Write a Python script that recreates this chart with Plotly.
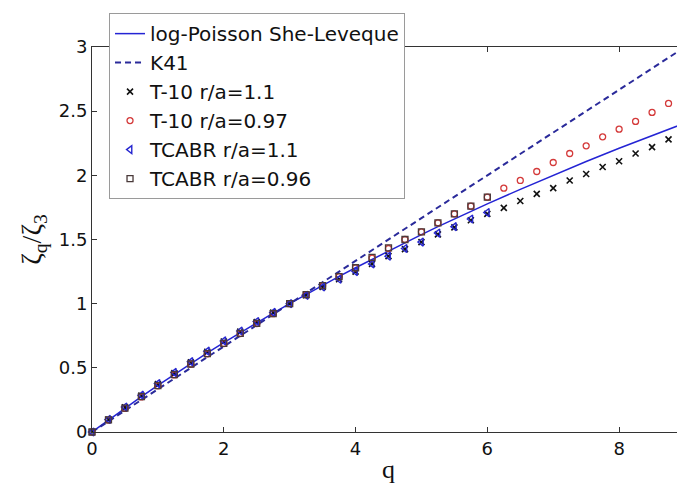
import plotly.graph_objects as go

# ---- data ----
q_line = [0, 0.25, 0.5, 0.75, 1.0, 1.25, 1.5, 1.75, 2.0, 2.25, 2.5, 2.75, 3.0,
          3.25, 3.5, 3.75, 4.0, 4.25, 4.5, 4.75, 5.0, 5.25, 5.5, 5.75, 6.0,
          6.5, 7.0, 7.5, 8.0, 8.5, 9.0]
she_leveque = [0, 0.094, 0.186, 0.276, 0.364, 0.450, 0.534, 0.616, 0.696, 0.774,
               0.851, 0.926, 1.0, 1.072, 1.143, 1.212, 1.280, 1.346, 1.411, 1.475,
               1.538, 1.600, 1.660, 1.719, 1.778, 1.891, 2.001, 2.108, 2.211,
               2.310, 2.407]

q_k41 = [0, 3, 6, 9]
k41 = [0, 1, 2, 3]

q_t10 = [0, 0.25, 0.5, 0.75, 1.0, 1.25, 1.5, 1.75, 2.0, 2.25, 2.5, 2.75, 3.0,
         3.25, 3.5, 3.75, 4.0, 4.25, 4.5, 4.75, 5.0, 5.25, 5.5, 5.75, 6.0,
         6.25, 6.5, 6.75, 7.0, 7.25, 7.5, 7.75, 8.0, 8.25, 8.5, 8.75, 9.0]
t10_r11 = [0, 0.097, 0.192, 0.284, 0.373, 0.459, 0.543, 0.625, 0.705, 0.782,
           0.857, 0.930, 1.0, 1.066, 1.13, 1.19, 1.25, 1.31, 1.37, 1.425, 1.48,
           1.54, 1.595, 1.65, 1.70, 1.746, 1.80, 1.855, 1.90, 1.96, 2.01, 2.065,
           2.11, 2.17, 2.22, 2.28, 2.33]
t10_r097 = [0, 0.093, 0.184, 0.273, 0.360, 0.445, 0.528, 0.609, 0.689, 0.767,
            0.845, 0.922, 1.0, 1.07, 1.14, 1.21, 1.28, 1.355, 1.43, 1.50, 1.56,
            1.63, 1.70, 1.76, 1.83, 1.90, 1.96, 2.03, 2.10, 2.17, 2.23, 2.30,
            2.36, 2.42, 2.49, 2.56, 2.61]

q_tcabr = [0, 0.25, 0.5, 0.75, 1.0, 1.25, 1.5, 1.75, 2.0, 2.25, 2.5, 2.75, 3.0,
           3.25, 3.5, 3.75, 4.0, 4.25, 4.5, 4.75, 5.0, 5.25, 5.5, 5.75, 6.0]
tcabr_r11 = [0, 0.098, 0.194, 0.287, 0.377, 0.464, 0.548, 0.630, 0.710, 0.787,
             0.861, 0.932, 1.0, 1.065, 1.13, 1.19, 1.25, 1.31, 1.37, 1.43, 1.48,
             1.55, 1.60, 1.66, 1.71]
tcabr_r096 = [0, 0.094, 0.186, 0.275, 0.362, 0.447, 0.530, 0.611, 0.691, 0.769,
              0.846, 0.923, 1.0, 1.07, 1.14, 1.21, 1.28, 1.36, 1.434, 1.50, 1.56,
              1.63, 1.70, 1.76, 1.83]

x_ticks = [0, 2, 4, 6, 8]
y_ticks = [0, 0.5, 1, 1.5, 2, 2.5, 3]
y_tick_labels = ["0", "0.5", "1", "1.5", "2", "2.5", "3"]

fig = go.Figure()
fig.add_trace(go.Scatter(x=q_line, y=she_leveque, mode="lines",
                         name="log-Poisson She-Leveque",
                         line=dict(color="#2424d4", width=1.5)))
fig.add_trace(go.Scatter(x=q_k41, y=k41, mode="lines", name="K41",
                         line=dict(color="#2a2a9a", width=2, dash="6px,4px")))
fig.add_trace(go.Scatter(x=q_t10, y=t10_r11, mode="markers", name="T-10 r/a=1.1",
                         cliponaxis=False,
                         marker=dict(symbol="x-thin", size=6, color="#111111",
                                     line=dict(color="#111111", width=1.6))))
fig.add_trace(go.Scatter(x=q_t10, y=t10_r097, mode="markers", name="T-10 r/a=0.97",
                         cliponaxis=False,
                         marker=dict(symbol="circle-open", size=6, color="#d43a3a",
                                     line=dict(width=1.3))))
fig.add_trace(go.Scatter(x=q_tcabr, y=tcabr_r11, mode="markers", name="TCABR r/a=1.1",
                         cliponaxis=False,
                         marker=dict(symbol="triangle-left-open", size=7, color="#2727d0",
                                     line=dict(width=1.4))))
fig.add_trace(go.Scatter(x=q_tcabr, y=tcabr_r096, mode="markers", name="TCABR r/a=0.96",
                         cliponaxis=False,
                         marker=dict(symbol="square-open", size=6, color="#4a3a3a",
                                     line=dict(width=1.3))))

tick_font = dict(family="DejaVu Sans", size=18, color="#111111")
axis_common = dict(showgrid=False, zeroline=False, showline=True, linecolor="#333333",
                   linewidth=1, mirror="ticks", ticks="inside", ticklen=5,
                   tickcolor="#333333", tickfont=tick_font)

# page body has an 8px default margin: size the figure so the plot area lands
# where the reference has it (left 92, top 47, bottom 432, right edge 685)
fig.update_layout(
    width=677, height=481,
    margin=dict(l=84, r=0, t=39, b=57),
    paper_bgcolor="white", plot_bgcolor="white",
    xaxis=dict(range=[0, 9], tickvals=x_ticks, ticktext=[str(v) for v in x_ticks],
               title=dict(text="q", font=dict(family="Liberation Serif", size=26, color="#111111"),
                          standoff=2),
               **axis_common),
    yaxis=dict(range=[0, 3], tickvals=y_ticks, ticktext=y_tick_labels,
               title=dict(text="ζ<sub>q</sub>/ζ<sub>3</sub>",
                          font=dict(family="Liberation Serif", size=28, color="#111111"),
                          standoff=8),
               **axis_common),
    legend=dict(x=0.0287, y=1.088, xanchor="left", yanchor="top",
                bgcolor="white", bordercolor="#9a9a9a", borderwidth=1,
                font=dict(family="DejaVu Sans", size=20, color="#111111"),
                itemwidth=30, tracegroupgap=0, entrywidth=270, entrywidthmode="pixels"),
    showlegend=True,
)

fig.write_html("out.html")
